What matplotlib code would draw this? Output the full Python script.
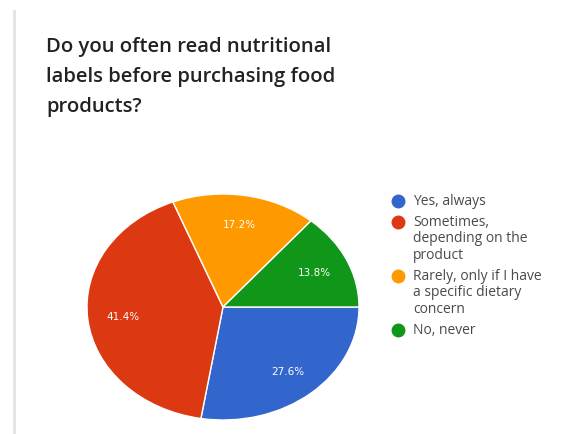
import matplotlib.pyplot as plt
from matplotlib.lines import Line2D
from matplotlib.transforms import ScaledTranslation

title = "Do you often read nutritional\nlabels before purchasing food\nproducts?"
answers = [
    "Yes, always",
    "Sometimes,\ndepending on the\nproduct",
    "Rarely, only if I have\na specific dietary\nconcern",
    "No, never",
]
shares = [27.6, 41.4, 17.2, 13.8]
colors = ["#3366cc", "#dc3912", "#ff9900", "#109618"]

W, H = 577, 435
fig = plt.figure(figsize=(W / 100, H / 100), dpi=100)
fig.patch.set_facecolor("white")

# thin grey border on the left of the card
fig.add_artist(Line2D([14 / W, 14 / W], [0, 1 - 12 / H], color="#e2e2e2", lw=2))

fig.text(46 / W, 1 - 37 / H, title, ha="left", va="top", fontsize=14.6,
         family="Open Sans", weight="semibold", color="#222222", linespacing=1.66)

# pie axes, stretched a bit wider than tall
cx, cy, rx, ry = 223, 308, 136, 113
ax = fig.add_axes([(cx - rx) / W, 1 - (cy + ry) / H, 2 * rx / W, 2 * ry / H])
wedges, texts, autotexts = ax.pie(
    shares, colors=colors, startangle=0, counterclock=False,
    autopct="%.1f%%", pctdistance=0.74,
    wedgeprops=dict(edgecolor="white", linewidth=1),
    textprops=dict(color="white", fontsize=7.5, family="DejaVu Sans"),
)
ax.set_aspect("auto")
ax.set_xlim(-1, 1)
ax.set_ylim(-1, 1)

# legend: coloured dot + wrapped label, first line aligned with the dot
lg = fig.add_axes([0, 0, 1, 1])
lg.set_xlim(0, W)
lg.set_ylim(H, 0)
lg.axis("off")
shift = lg.transData + ScaledTranslation(0, 8 / 100, fig.dpi_scale_trans)
y = 202
for label, c in zip(answers, colors):
    lg.plot(398, y, "o", color=c, markersize=9)
    lg.text(413, y, label, ha="left", va="top", fontsize=10, family="Open Sans",
            color="#4a4a4a", linespacing=1.12, transform=shift)
    y += label.count("\n") * 16.5 + 21

fig.savefig("out.png", dpi=100, facecolor="white")
